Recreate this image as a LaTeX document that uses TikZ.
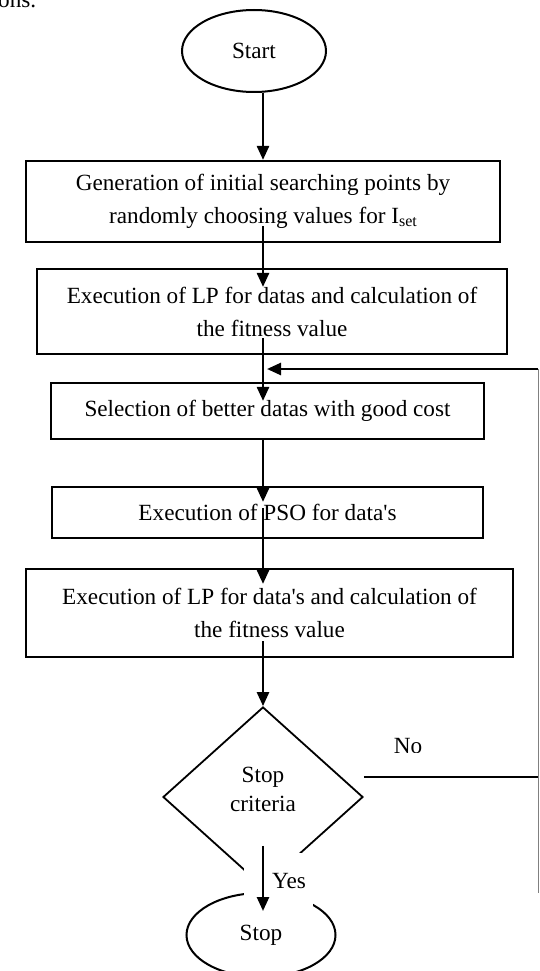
\documentclass[tikz,border=0pt]{standalone}
\usepackage{fontspec}
\setmainfont{Liberation Serif}
\usetikzlibrary{arrows.meta,shapes.geometric,calc}

\begin{document}
\begin{tikzpicture}[x=1pt, y=-1pt, >={Triangle[length=14pt,width=12pt]},
  font=\fontsize{23.2}{33}\selectfont,
  process/.style={draw, line width=2.2pt, inner sep=0pt, align=center},
  terminal/.style={draw, ellipse, line width=2pt, inner sep=0pt},
  decision/.style={draw, diamond, line width=1.8pt, inner sep=0pt},
  flow/.style={->, line width=2.6pt}]
  \newcommand*{\FlowX}{263}
  \useasboundingbox (0,0) rectangle (539,971);
  \coordinate (axis) at (\FlowX,0);
  \node[anchor=base west, inner sep=0pt] (ons) at (-2,8) {ons.};
  \node[terminal, minimum width=144pt, minimum height=82pt] (start) at (254,51) {Start};
  \node[process, minimum width=474pt, minimum height=81pt] (gen) at (263,201.5)
    {Generation of initial searching points by\\randomly choosing values for I\raisebox{-3pt}{\fontsize{16}{16}\selectfont set}};
  \node[process, minimum width=470pt, minimum height=85pt] (lpa) at (272,311.5)
    {Execution of LP for datas and calculation of\\the fitness value};
  \node[process, minimum width=433pt, minimum height=56pt] (sel) at (267.5,411)
    {Selection of better datas with good cost};
  \node[process, minimum width=431pt, minimum height=51pt] (pso) at (267.5,512.5)
    {Execution of PSO for data\textquotesingle s};
  \node[process, minimum width=487pt, minimum height=88pt] (lpb) at (269.5,613)
    {Execution of LP for data\textquotesingle s and calculation of\\the fitness value};
  \node[decision, minimum width=200pt, minimum height=180pt] (stopq) at (\FlowX,797) {};
  \node[align=center, inner sep=0pt, font=\fontsize{23.2}{29}\selectfont] (stoptxt)
    at ($(stopq)+(0,-8)$) {Stop\\criteria};
  \node[terminal, minimum width=149pt, minimum height=84pt] (stop) at (261,935) {Stop};
  % main flow
  \draw[flow] (start.south -| axis) -- (gen.north -| axis);
  \draw[flow] ($(gen.south -| axis)+(0,-17)$) -- ($(lpa.north -| axis)+(0,19)$);
  \draw[flow] ($(lpa.south -| axis)+(0,-17)$) -- ($(sel.north -| axis)+(0,19)$);
  \draw[flow] (sel.south -| axis) -- ($(pso.north -| axis)+(0,16)$);
  \draw[flow] ($(pso.south -| axis)+(0,-31)$) -- ($(lpb.north -| axis)+(0,16)$);
  \draw[flow] ($(lpb.south -| axis)+(0,-17)$) -- (stopq.north);
  % loop back
  \coordinate (ret) at (538,369);
  \coordinate (retend) at (538,893);
  \coordinate (noout) at ($(stopq.east)+(0,-20)$);
  \draw[gray, line width=1pt] (ret) -- (retend);
  \draw[line width=2pt] (noout) -- (noout -| ret);
  \draw[flow] (ret) -- ($(ret -| axis)+(4,0)$);
  \begin{scope}
    \clip (380,725) rectangle (440,752);
    \node (nolbl) at (408,746) {No};
  \end{scope}
  % yes branch
  \fill[white] (244,853) rectangle (313,908);
  \draw[flow] ($(stopq.south -| axis)+(0,-42)$) -- ($(stop.north -| axis)+(0,19)$);
  \node[anchor=west, inner sep=0pt] (yeslbl) at (272,881) {Yes};
\end{tikzpicture}
\end{document}
